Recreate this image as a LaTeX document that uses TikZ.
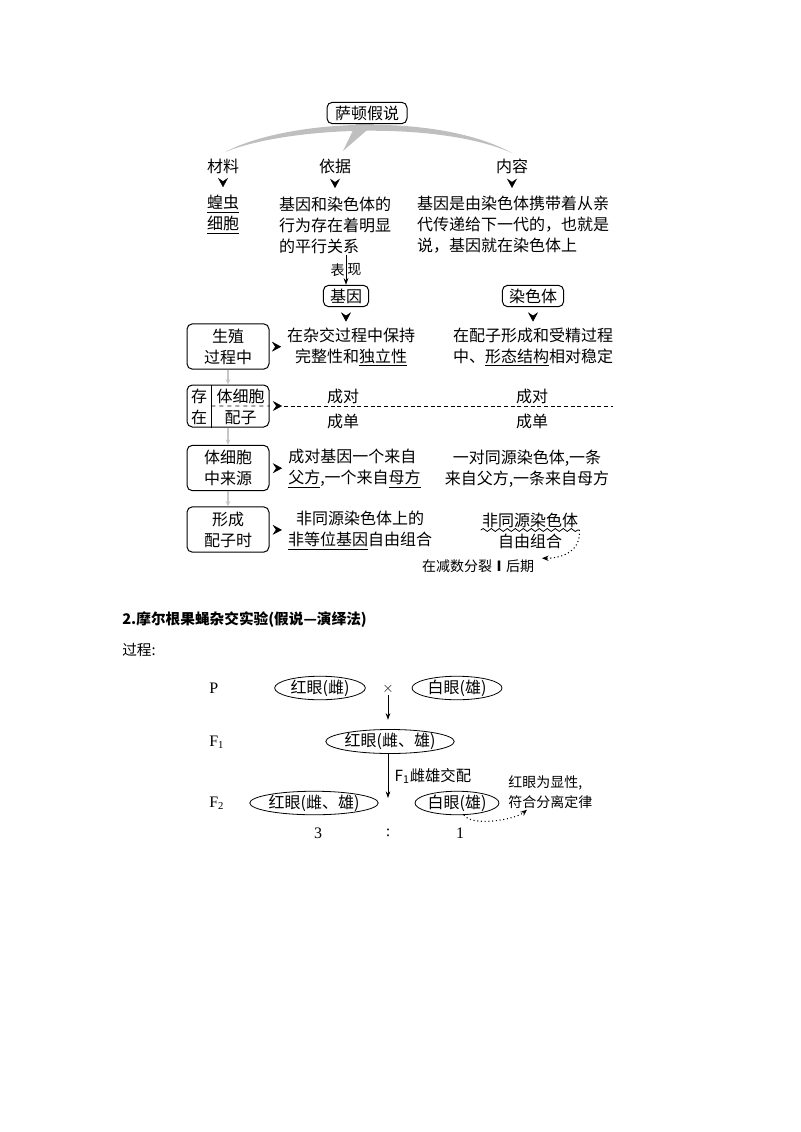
\documentclass[tikz,border=0pt]{standalone}
\usepackage{fontspec}
\setmainfont{Liberation Serif}
\newfontfamily\cjk{Noto Sans CJK SC}
\usetikzlibrary{arrows.meta,calc,shapes.geometric,decorations.markings,decorations.pathmorphing}

\begin{document}
\begin{tikzpicture}[x=0.75pt,y=0.75pt,yscale=-1,xscale=1,
  txt/.style={font=\cjk\fontsize{12}{15.75}\selectfont, inner sep=0.75pt, align=center},
  txtl/.style={txt, align=left},
  box/.style={draw, line width=0.75pt, rounded corners=4pt, inner sep=0.75pt, font=\cjk\fontsize{12}{15.75}\selectfont, align=center},
  sidebox/.style={box, minimum width=61.5pt, minimum height=34pt},
  tipmark/.style={decoration={markings, mark=at position #1 with {\arrow{Stealth[length=7pt,width=7.5pt,inset=2.5pt]}}}, postaction={decorate}},
  tipmark/.default=0.65,
  link/.style={draw=gray!45, line width=1pt, -{Stealth[length=4pt,width=3.5pt]}},
  arr/.style={line width=0.6pt, -{Stealth[length=5pt,width=3.5pt]}},
  oval/.style={ellipse, draw, line width=0.6pt, inner sep=0pt, font=\cjk\fontsize{12}{14}\selectfont},
  hand/.style={font=\cjk\fontsize{10.5}{15}\selectfont, inner sep=0.75pt},
  gen/.style={anchor=west, inner sep=0pt, font=\fontsize{12}{14}\selectfont},
]
\useasboundingbox (0,0) rectangle (800,1132);

%Shape: Crescent
\fill[gray!50] (225,152) .. controls (290,118) and (440,113) .. (512,153) .. controls (440,121) and (290,126) .. (225,152) -- cycle;
\fill[gray!50] (356,124) -- (374,124) -- (343,151) -- cycle;
% Text Node
\node[box, fill=white, inner xsep=6pt, inner ysep=2.5pt] (sadun) at (367,113) {萨顿假说};

% Text Node
\node[txt] (cailiao) at (223,166) {材料};
\node[txt] (yiju) at (335,166) {依据};
\node[txt] (neirong) at (512,166) {内容};
% Text Node
\node[txt] (huangchong) at (223,214.5) {\underline{蝗虫}\\\underline{细胞}};
\node[txtl] (yijutxt) at (335,225) {基因和染色体的\\行为存在着明显\\的平行关系};
\node[txtl] (neirongtxt) at (513,225) {基因是由染色体携带着从亲\\代传递给下一代的，也就是\\说，基因就在染色体上};
%Arrow heads
\path[tipmark] (cailiao) -- (huangchong);
\path[tipmark] (yiju) -- (yijutxt);
\path[tipmark] (neirong) -- (neirong |- neirongtxt.north);

% Text Node
\node[box, inner xsep=5pt, inner ysep=2.5pt] (jiyin) at (346,296) {基因};
\node[box, inner xsep=5pt, inner ysep=2.5pt] (ranseti) at (533,296) {染色体};
%Straight Lines
\draw[arr] (yijutxt.south -| jiyin) -- node[left, hand]{表} node[right, hand]{现} (jiyin);

%Row: 生殖过程中
\node[sidebox] (shengzhi) at (228,346.5) {生殖\\过程中};
\node[txt] (r1l) at (351,347) {在杂交过程中保持\\完整性和\underline{独立性}};
\node[txt] (r1r) at (533,347) {在配子形成和受精过程\\中、\underline{形态结构}相对稳定};
\path[tipmark=0.72] (shengzhi) -- (r1l);
\path[tipmark=0.75] (jiyin) -- (jiyin |- r1l.north);
\path[tipmark=0.75] (ranseti) -- (ranseti |- r1r.north);

%Row: 存在
\node[sidebox, minimum height=31.5pt] (cunzai) at (228,406) {};
\draw[line width=0.75pt] ($(cunzai.north west)!0.3!(cunzai.north east)$) -- ($(cunzai.south west)!0.3!(cunzai.south east)$);
\draw[dashed, line width=0.6pt] ($(cunzai.west)!0.3!(cunzai.east)$) -- (cunzai.east);
\node[txt] (cun) at (199,407) {存\\在};
\node[txt] (tixibao) at (240.5,396) {体细胞};
\node[txt] (peizi) at (240.5,418) {配子};
\coordinate (dashstart) at (284,406);
\coordinate (dashend) at (613,406);
\path[tipmark=0.87] (cunzai) -- (dashstart);
\draw[dashed, line width=0.6pt, dash pattern=on 3pt off 2pt] (dashstart) -- (dashend);
\node[txt] (chengdui1) at (343,396) {成对};
\node[txt] (chengdan1) at (343,421) {成单};
\node[txt] (chengdui2) at (532,396) {成对};
\node[txt] (chengdan2) at (532,421) {成单};

%Row: 体细胞中来源
\node[sidebox] (laiyuan) at (228,468) {体细胞\\中来源};
\node[txtl, anchor=west] (r3l) at (287,468.5) {成对基因一个来自\\\underline{父方},一个来自\underline{母方}};
\node[txt] (r3r) at (527,468.5) {一对同源染色体,一条\\来自父方,一条来自母方};
\path[tipmark=0.72] (laiyuan) -- (r3l);

%Row: 形成配子时
\node[sidebox] (xingcheng) at (228,529.5) {形成\\配子时};
\node[txt] (r4l) at (360,530.5) {非同源染色体上的\\\underline{非等位基因}自由组合};
\node[txt] (r4ra) at (530,520) {非同源染色体};
\node[txt] (r4rb) at (530,541) {自由组合};
\path[tipmark=0.72] (xingcheng) -- (r4l);
\draw[line width=0.6pt, decorate, decoration={snake, amplitude=1.1pt, segment length=6pt}] ([yshift=1pt]r4ra.south west) -- ([yshift=1pt]r4ra.south east);
\node[hand] (houqi) at (478,566) {在减数分裂{\bfseries Ⅰ}后期};
\draw[dotted, line width=0.8pt, -{Stealth[length=5pt,width=4pt]}] ([yshift=1pt]r4ra.south east) .. controls +(2,20) and +(22,0) .. ([xshift=5pt]houqi.north east);

%Left column links
\draw[link] (shengzhi) -- (cunzai);
\draw[link] (cunzai) -- (laiyuan);
\draw[link] (laiyuan) -- (xingcheng);

% Text Node
\node[anchor=west, inner sep=0pt, font=\cjk\bfseries\fontsize{11}{13}\selectfont] (title2) at (122,620) {2.摩尔根果蝇杂交实验(假说—演绎法)};
\node[anchor=west, inner sep=0pt, font=\cjk\fontsize{11}{13}\selectfont] (guocheng) at (122,650) {过程:};

%Generations
\node[gen] (genP) at (209,688) {P};
\node[gen] (genF1) at (209,742) {F\textsubscript{1}};
\node[gen] (genF2) at (209,803) {F\textsubscript{2}};

%Shape: Ellipse
\node[oval, minimum width=68pt, minimum height=17.5pt] (pfemale) at (320,688) {红眼(雌)};
\node[inner sep=0.75pt, font=\fontsize{11}{13}\selectfont] (cross) at (388,689) {$\times$};
\node[oval, minimum width=67.5pt, minimum height=17.5pt] (pmale) at (457,688) {白眼(雄)};
\node[oval, minimum width=94.5pt, minimum height=18pt] (f1) at (390,741.5) {红眼(雌、雄)};
\draw[arr, shorten >=7pt] (cross) -- (cross |- f1.north);

\coordinate (f2mid) at (388,798);
\draw[arr] (f1.south -| f2mid) -- node[anchor=west, xshift=4pt, inner sep=0.75pt, font=\cjk\fontsize{11.5}{14}\selectfont]{F\textsubscript{1}雌雄交配} (f2mid);

\node[oval, minimum width=91.5pt, minimum height=16.5pt] (f2red) at (314,803) {红眼(雌、雄)};
\node[oval, minimum width=63pt, minimum height=16.5pt] (f2white) at (457,803) {白眼(雄)};

% Text Node
\node[gen, anchor=center] (three) at (318,833) {3};
\node[gen, anchor=center] (ratio) at (388,833) {:};
\node[gen, anchor=center] (one) at (460,833) {1};

\node[hand, align=left, anchor=west] (xianxing) at (507,792) {红眼为显性,\\符合分离定律};
\draw[dotted, line width=0.8pt, -{Stealth[length=5pt,width=4pt]}] (f2white.-60) .. controls +(8,12) and +(-12,10) .. ([xshift=15pt]xianxing.south west);

\end{tikzpicture}
\end{document}
